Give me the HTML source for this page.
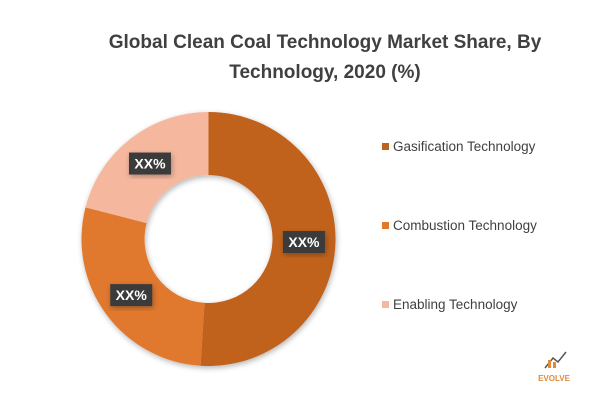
<!DOCTYPE html>
<html><head><meta charset="utf-8"><style>
body{margin:0;background:#fff;width:600px;height:406px;overflow:hidden;font-family:"Liberation Sans",sans-serif}
</style></head><body>
<svg width="600" height="406">
<defs><filter id="sh" x="-20%" y="-20%" width="140%" height="140%"><feGaussianBlur in="SourceAlpha" stdDeviation="3"/><feOffset dx="1" dy="2"/><feComponentTransfer><feFuncA type="linear" slope="0.3"/></feComponentTransfer><feMerge><feMergeNode/><feMergeNode in="SourceGraphic"/></feMerge></filter></defs>
<text x="325" y="48" text-anchor="middle" font-size="19" font-weight="bold" fill="#404040">Global Clean Coal Technology Market Share, By</text>
<text x="325" y="78" text-anchor="middle" font-size="19" font-weight="bold" fill="#404040">Technology, 2020 (%)</text>
<g id="slices" filter="url(#sh)"></g>
<g id="labels"></g>
<g id="legend"></g>
<g>
<path d="M545 368 L553 358 L558 362 L566 352" stroke="#555" stroke-width="1.5" fill="none"/>
<rect x="548" y="360" width="3" height="8" fill="#e08a3c"/><rect x="553" y="362" width="3" height="6" fill="#e08a3c"/>
<text x="554" y="381" text-anchor="middle" font-size="8" font-weight="bold" fill="#e08a3c">EVOLVE</text>
</g>
</svg>
<script>
const categories=["Gasification Technology","Combustion Technology","Enabling Technology"];
const values=[51,28,21];
const labelsTxt=["XX%","XX%","XX%"];
const colors=["#c0621f","#e0782e","#f5b79e"];
const NS="http://www.w3.org/2000/svg";
const cx=208.5,cy=239,R=127,r=64;
const total=values.reduce((a,b)=>a+b,0);
function pt(a,rad){return [cx+rad*Math.sin(a),cy-rad*Math.cos(a)];}
let a0=0;
const gS=document.getElementById('slices'),gL=document.getElementById('labels'),gG=document.getElementById('legend');
values.forEach((v,i)=>{
 const a1=a0+v/total*2*Math.PI,lg=(a1-a0)>Math.PI?1:0;
 const [x0,y0]=pt(a0,R),[x1,y1]=pt(a1,R),[x2,y2]=pt(a1,r),[x3,y3]=pt(a0,r);
 const p=document.createElementNS(NS,'path');
 p.setAttribute('d',`M${x0},${y0}A${R},${R} 0 ${lg} 1 ${x1},${y1}L${x2},${y2}A${r},${r} 0 ${lg} 0 ${x3},${y3}Z`);
 p.setAttribute('fill',colors[i]);
 
 
 gS.appendChild(p);
 const m=(a0+a1)/2,[lx,ly]=pt(m,(R+r)/2);
 const b=document.createElementNS(NS,'rect');
 b.setAttribute('x',lx-21);b.setAttribute('y',ly-11);b.setAttribute('width',42);b.setAttribute('height',22);
 b.setAttribute('fill','#3a3a3a');b.setAttribute('filter','url(#sh)');
 
 
 gL.appendChild(b);
 const t=document.createElementNS(NS,'text');
 t.setAttribute('x',lx);t.setAttribute('y',ly+5);t.setAttribute('text-anchor','middle');
 t.setAttribute('font-size','14');t.setAttribute('font-weight','bold');t.setAttribute('fill','#fff');
 t.textContent=labelsTxt[i];
 
 
 gL.appendChild(t);
 const ly2=147+i*79;
 const s=document.createElementNS(NS,'rect');
 s.setAttribute('x',382);s.setAttribute('y',ly2-4);s.setAttribute('width',7);s.setAttribute('height',7);s.setAttribute('fill',colors[i]);
 
 
 gG.appendChild(s);
 const lt=document.createElementNS(NS,'text');
 lt.setAttribute('x',393);lt.setAttribute('y',ly2+4);lt.setAttribute('font-size','13.5');lt.setAttribute('fill','#404040');
 lt.textContent=categories[i];
 
 
 gG.appendChild(lt);
 a0=a1;
});
</script>
</body></html>
